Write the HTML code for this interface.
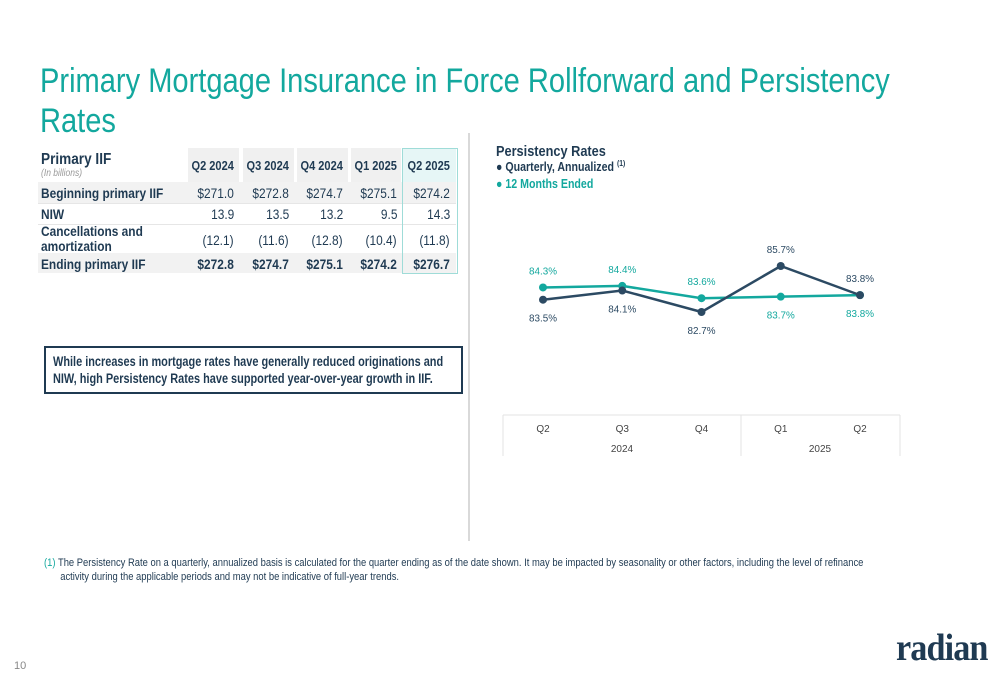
<!DOCTYPE html>
<html><head><meta charset="utf-8">
<style>
body{margin:0;width:1000px;height:685px;background:#fff;font-family:"Liberation Sans",sans-serif;position:relative;overflow:hidden;color:#1f3a52}
.abs{position:absolute;white-space:nowrap}
.r{position:absolute;white-space:nowrap;transform:scaleX(.85);transform-origin:right top;text-align:right}
.l{position:absolute;white-space:nowrap;transform:scaleX(.85);transform-origin:left top}
.bg{position:absolute}
</style></head><body>
<div class="abs" style="left:40px;top:61px;font-size:34px;line-height:40px;color:#13a89e;transform:scaleX(.855);transform-origin:left top">Primary Mortgage Insurance in Force Rollforward and Persistency<br>Rates</div>
<div class="abs" style="left:468px;top:133px;width:2px;height:408px;background:#d9d9d9"></div>

<div>
<div class="bg" style="left:188px;top:148px;width:51px;height:34px;background:#f0f0f0"></div>
<div class="bg" style="left:243px;top:148px;width:51px;height:34px;background:#f0f0f0"></div>
<div class="bg" style="left:297px;top:148px;width:51px;height:34px;background:#f0f0f0"></div>
<div class="bg" style="left:351px;top:148px;width:50px;height:34px;background:#f0f0f0"></div>
<div class="bg" style="left:403px;top:148px;width:53px;height:34px;background:#e6f6f6"></div>
<div class="bg" style="left:38px;top:182px;width:418px;height:21px;background:#f2f2f2"></div>
<div class="bg" style="left:38px;top:253px;width:418px;height:20px;background:#f2f2f2"></div>
<div class="bg" style="left:38px;top:203px;width:418px;height:1px;background:#e6e6e6"></div>
<div class="bg" style="left:38px;top:224px;width:418px;height:1px;background:#e6e6e6"></div>
<div class="bg" style="left:402px;top:148px;width:54px;height:124px;border:1px solid #9fdcd8"></div>

<div class="l" style="left:41px;top:151px;font-size:16px;font-weight:bold">Primary IIF</div>
<div class="l" style="left:41px;top:168px;font-size:10px;font-style:italic;color:#999">(In billions)</div>
<div class="r" style="right:766px;top:158px;font-size:13px;font-weight:bold">Q2 2024</div>
<div class="r" style="right:711px;top:158px;font-size:13px;font-weight:bold">Q3 2024</div>
<div class="r" style="right:657px;top:158px;font-size:13px;font-weight:bold">Q4 2024</div>
<div class="r" style="right:603px;top:158px;font-size:13px;font-weight:bold">Q1 2025</div>
<div class="r" style="right:550px;top:158px;font-size:13px;font-weight:bold">Q2 2025</div>

<div class="l" style="left:41px;top:185px;font-size:14px;font-weight:bold">Beginning primary IIF</div>
<div class="r" style="right:766px;top:185px;font-size:14px">$271.0</div>
<div class="r" style="right:711px;top:185px;font-size:14px">$272.8</div>
<div class="r" style="right:657px;top:185px;font-size:14px">$274.7</div>
<div class="r" style="right:603px;top:185px;font-size:14px">$275.1</div>
<div class="r" style="right:550px;top:185px;font-size:14px">$274.2</div>

<div class="l" style="left:41px;top:206px;font-size:14px;font-weight:bold">NIW</div>
<div class="r" style="right:766px;top:206px;font-size:14px">13.9</div>
<div class="r" style="right:711px;top:206px;font-size:14px">13.5</div>
<div class="r" style="right:657px;top:206px;font-size:14px">13.2</div>
<div class="r" style="right:603px;top:206px;font-size:14px">9.5</div>
<div class="r" style="right:550px;top:206px;font-size:14px">14.3</div>

<div class="l" style="left:41px;top:224px;font-size:14px;font-weight:bold;line-height:15px">Cancellations and<br>amortization</div>
<div class="r" style="right:766px;top:232px;font-size:14px">(12.1)</div>
<div class="r" style="right:711px;top:232px;font-size:14px">(11.6)</div>
<div class="r" style="right:657px;top:232px;font-size:14px">(12.8)</div>
<div class="r" style="right:603px;top:232px;font-size:14px">(10.4)</div>
<div class="r" style="right:550px;top:232px;font-size:14px">(11.8)</div>

<div class="l" style="left:41px;top:256px;font-size:14px;font-weight:bold">Ending primary IIF</div>
<div class="r" style="right:766px;top:256px;font-size:14px;font-weight:bold">$272.8</div>
<div class="r" style="right:711px;top:256px;font-size:14px;font-weight:bold">$274.7</div>
<div class="r" style="right:657px;top:256px;font-size:14px;font-weight:bold">$275.1</div>
<div class="r" style="right:603px;top:256px;font-size:14px;font-weight:bold">$274.2</div>
<div class="r" style="right:550px;top:256px;font-size:14px;font-weight:bold">$276.7</div>
</div>

<div class="abs" style="left:44px;top:346px;width:415px;height:44px;border:2px solid #1f3a52"></div>
<div class="l" style="left:53px;top:353px;font-size:13.5px;font-weight:bold;line-height:17px;transform:scaleX(.81)">While increases in mortgage rates have generally reduced originations and<br>NIW, high Persistency Rates have supported year-over-year growth in IIF.</div>

<div class="l" style="left:496px;top:143px;font-size:15px;font-weight:bold">Persistency Rates</div>
<div class="l" style="left:496px;top:159px;font-size:12.5px;font-weight:bold">● Quarterly, Annualized <sup style="font-size:8px">(1)</sup></div>
<div class="l" style="left:496px;top:177px;font-size:12.5px;font-weight:bold;color:#13a89e">● 12 Months Ended</div>

<svg class="abs" style="left:0;top:0" width="1000" height="685" id="chart"></svg>

<div class="l" style="left:44px;top:556px;font-size:11px;line-height:14px;color:#1f3a52;transform:scaleX(.855)"><span style="color:#13a89e">(1)</span> The Persistency Rate on a quarterly, annualized basis is calculated for the quarter ending as of the date shown. It may be impacted by seasonality or other factors, including the level of refinance<br><span style="padding-left:19px">activity during the applicable periods and may not be indicative of full-year trends.</span></div>
<div class="abs" style="left:14px;top:660px;font-size:11px;color:#888">10</div>
<div class="abs" style="left:896px;top:626px;font-family:'Liberation Serif',serif;font-size:38px;font-weight:bold;color:#1f3a52;letter-spacing:-1px;transform:scaleX(.9);transform-origin:left top">radian</div>

<script>
const categories=["Q2","Q3","Q4","Q1","Q2"];
const years=["2024","2025"];
const quarterly=[83.5,84.1,82.7,85.7,83.8];
const twelveMonth=[84.3,84.4,83.6,83.7,83.8];
const svg=document.getElementById('chart');
const NS="http://www.w3.org/2000/svg";
const xs=i=>543+i*79.25;
const ys=v=>266+(85.7-v)*15.33;
function mk(t,a){const e=document.createElementNS(NS,t);for(const k in a)e.setAttribute(k,a[k]);svg.appendChild(e);return e;}
function series(vals,color,name,labelAbove){
  const l=mk('polyline',{points:vals.map((v,i)=>xs(i)+','+ys(v)).join(' '),fill:'none',stroke:color,'stroke-width':2.5});
  
  
  vals.forEach((v,i)=>{
    const c=mk('circle',{cx:xs(i),cy:ys(v),r:4,fill:color});
    
    
    const above=labelAbove(i);
    const t=mk('text',{x:xs(i),y:ys(v)+(above?-13:22),'text-anchor':'middle','font-size':10,fill:color,'font-family':'Liberation Sans','textLength':28,'lengthAdjust':'spacingAndGlyphs'});
    t.textContent=v.toFixed(1)+'%';
    
    
  });
}
series(twelveMonth,'#13a89e','twelve-month',i=>i!==3&&i!==4);
series(quarterly,'#2c4a63','quarterly',i=>i===3||i===4);
const ax=mk('line',{x1:503,y1:415,x2:900,y2:415,stroke:'#e3e3e3'});


[503,741,900].forEach(x=>{const d=mk('line',{x1:x,y1:415,x2:x,y2:456,stroke:'#e3e3e3'});

});
categories.forEach((c,i)=>{const t=mk('text',{x:xs(i),y:432,'text-anchor':'middle','font-size':10,fill:'#444','font-family':'Liberation Sans'});t.textContent=c;

});
years.forEach((y,i)=>{const t=mk('text',{x:i?820:622,y:452,'text-anchor':'middle','font-size':10,fill:'#444','font-family':'Liberation Sans'});t.textContent=y;

});
</script>
</body></html>
